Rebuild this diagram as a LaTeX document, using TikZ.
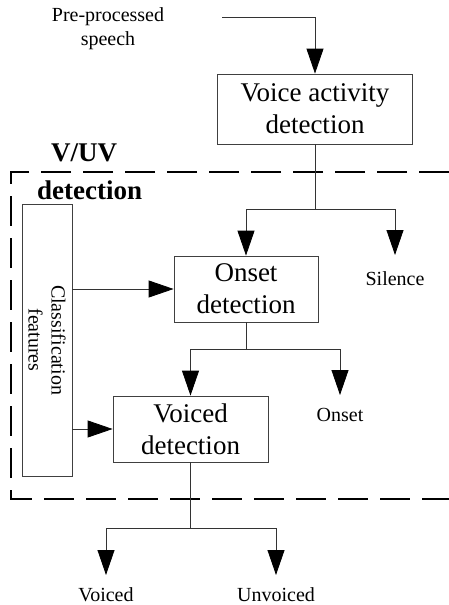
\documentclass[tikz,border=0pt]{standalone}
\usepackage{fontspec}
\setmainfont{Liberation Serif}
\usetikzlibrary{arrows.meta}
\begin{document}
\begin{tikzpicture}[x=1pt,y=-1pt,
  box/.style={draw=black!75,line width=0.8pt,inner sep=0pt,align=center,
    font=\fontsize{27}{32}\selectfont},
  lbl/.style={align=center,inner sep=0pt,font=\fontsize{20}{24}\selectfont},
  wire/.style={draw=black!80,line width=0.8pt},
  flow/.style={wire,-{Triangle[width=17pt,length=25pt,fill=black,color=black]}},
  group/.style={line width=2.2pt,dash pattern=on 30pt off 12pt}]
\useasboundingbox (0,0) rectangle (449,605);

% processing blocks
\node[box,minimum width=195pt,minimum height=70pt] (vad) at (315,109)
  {Voice activity\\detection};
\node[box,minimum width=144pt,minimum height=66pt] (onset) at (246,289)
  {Onset\\detection};
\node[box,minimum width=155pt,minimum height=66pt] (voiced) at (190.5,429)
  {Voiced\\detection};
\node[box,minimum width=50pt,minimum height=272pt] (feat) at (47,340) {};
\node[lbl,rotate=-90,font=\fontsize{20}{23}\selectfont] (featlbl) at (47,340)
  {Classification\\features};

% V/UV detection group
\draw[group] (449,172) -- (11,172) -- (11,499) -- (449,499);
\node[align=left,inner sep=0pt,font=\bfseries\fontsize{27}{38}\selectfont,anchor=west]
  (grp) at (37,172) {\hspace*{14pt}V/UV\\detection};

% input
\node[lbl] (inlbl) at (108,29) {Pre-processed\\speech};
\coordinate (in) at (222,17);
\draw[flow] (in) -| (vad.north);

% VAD branches
\draw[wire] (vad.south) -- ++(0,65) coordinate (j1);
\coordinate (sil) at (395,255);
\draw[flow] (j1) -| (onset.north);
\draw[flow] (j1) -| (sil);
\node[lbl] (silence) at (395,279) {Silence};

% onset branches
\draw[wire] (onset.south) -- ++(0,27) coordinate (j2);
\coordinate (ons) at (340,395);
\draw[flow] (j2) -| (voiced.north);
\draw[flow] (j2) -| (ons);
\node[lbl] (onsetlbl) at (340,415) {Onset};

% feature inputs
\draw[flow] (feat.east |- onset.west) -- (onset.west);
\draw[flow] (feat.east |- voiced.west) -- (voiced.west);

% voiced branches
\draw[wire] (voiced.south) -- ++(0,66) coordinate (j3);
\coordinate (vo) at (106,575);
\coordinate (uv) at (276,575);
\draw[flow] (j3) -| (vo);
\draw[flow] (j3) -| (uv);
\node[lbl] (vlbl) at (106,595) {Voiced};
\node[lbl] (uvlbl) at (276,595) {Unvoiced};
\end{tikzpicture}
\end{document}
